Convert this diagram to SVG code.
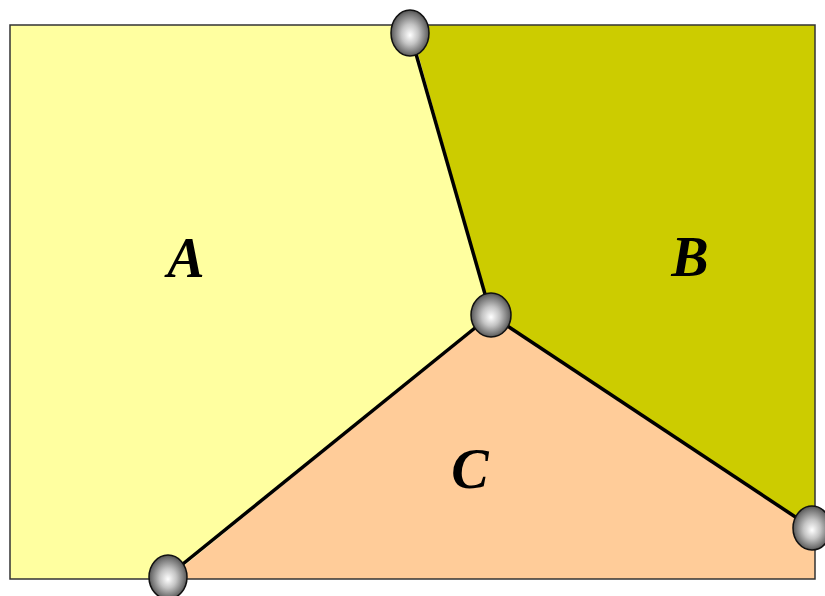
<svg xmlns="http://www.w3.org/2000/svg" width="825" height="596" viewBox="0 0 825 596">
<defs>
<radialGradient id="ball" cx="0.5" cy="0.5" r="0.55" fx="0.5" fy="0.55">
<stop offset="0" stop-color="#ffffff"/>
<stop offset="0.4" stop-color="#c4c4c4"/>
<stop offset="0.8" stop-color="#707070"/>
<stop offset="1" stop-color="#3a3a3a"/>
</radialGradient>
<style>
.lbl{font-family:"Liberation Serif",serif;font-weight:bold;font-style:italic;font-size:56px;fill:#000;text-anchor:middle}
.edge{stroke:#000;stroke-width:3.5;fill:none}
.node{fill:url(#ball);stroke:#111;stroke-width:1.5}
</style>
</defs>
<g id="regions">
<polygon id="regionA" points="10,25 410,25 491,315 168,579 10,579" fill="#FFFFA0"/>
<polygon id="regionB" points="410,25 815,25 815,530 491,315" fill="#CCCC00"/>
<polygon id="regionC" points="491,315 815,530 815,579 168,579" fill="#FFCC99"/>
<rect x="10" y="25" width="805" height="554" fill="none" stroke="#333" stroke-width="1.5"/>
</g>
<g id="connectors">
<line class="edge" x1="410" y1="33" x2="491" y2="315"/>
<line class="edge" x1="491" y1="315" x2="168" y2="576"/>
<line class="edge" x1="491" y1="315" x2="812" y2="528"/>
</g>
<g id="labels">
<text class="lbl" x="186" y="277">A</text>
<text class="lbl" x="690" y="276">B</text>
<text class="lbl" x="470" y="488">C</text>
</g>
<g id="n1"><ellipse class="node" cx="410" cy="33" rx="19" ry="23"/></g>
<g id="n2"><ellipse class="node" cx="491" cy="315" rx="20" ry="22"/></g>
<g id="n3"><ellipse class="node" cx="168" cy="577" rx="19" ry="22"/></g>
<g id="n4"><ellipse class="node" cx="812" cy="528" rx="19" ry="22"/></g>
</svg>
